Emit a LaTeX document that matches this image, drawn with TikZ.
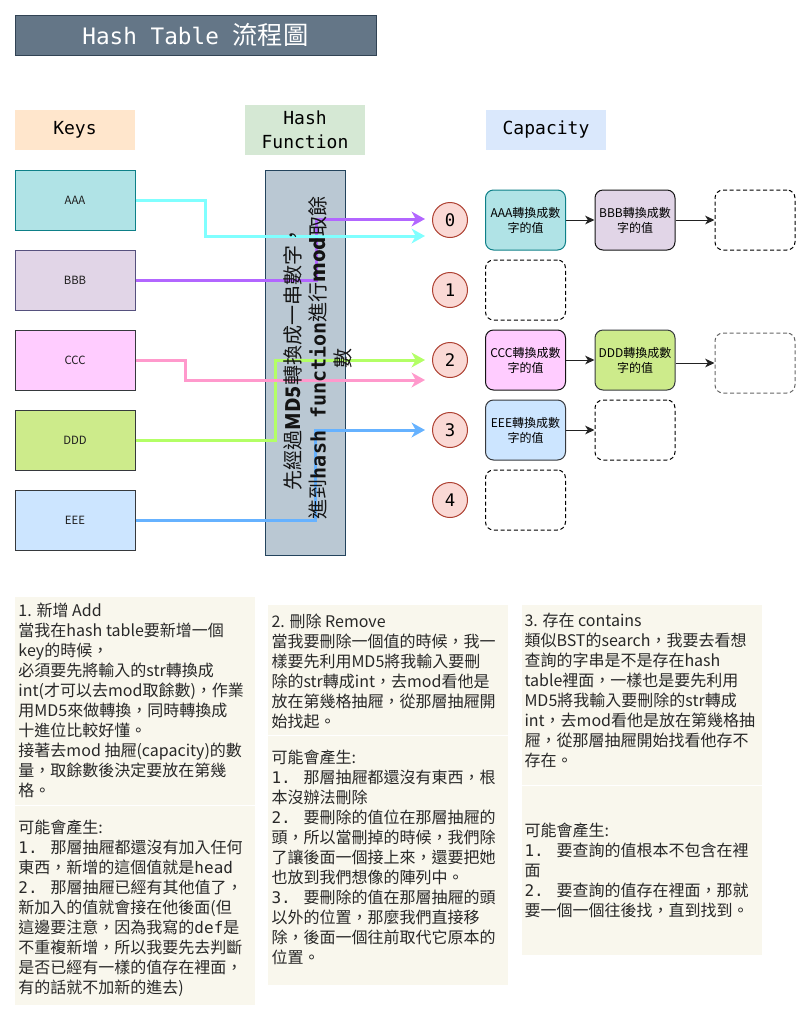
\documentclass[tikz,border=0pt]{standalone}
\usepackage{fontspec}
\setmainfont{Noto Sans CJK TC}
\newfontfamily\monofont{DejaVu Sans Mono}
\usetikzlibrary{arrows.meta}

\tikzset{every picture/.style={line width=0.75pt}}

\begin{document}
\begin{tikzpicture}[x=0.75pt,y=0.75pt,yscale=-1,xscale=1,
	keybox/.style={draw, minimum width=90pt, minimum height=45pt, inner sep=0pt, font=\fontsize{8.5}{10}\selectfont, text={rgb, 255:red, 30; green, 30; blue, 30}},
	headbox/.style={minimum width=90pt, inner sep=0pt, align=center, font=\monofont\fontsize{13.5}{18}\selectfont},
	slot/.style={draw, rounded corners=6pt, minimum width=60pt, minimum height=45pt, inner sep=0pt, align=center, font=\fontsize{9}{11.25}\selectfont},
	emptyslot/.style={slot, dash pattern=on 3pt off 2pt, fill=white},
	bucket/.style={circle, draw={rgb, 255:red, 174; green, 65; blue, 50}, fill={rgb, 255:red, 250; green, 217; blue, 213}, minimum size=26.25pt, inner sep=0pt, font=\monofont\fontsize{13}{13}\selectfont},
	hashline/.style={line width=2.25pt, -{Stealth[length=10pt, width=11pt, inset=3pt]}},
	nextline/.style={line width=0.75pt, draw={rgb, 255:red, 34; green, 34; blue, 34}, -{Stealth[length=7pt, width=6.5pt, inset=2pt]}},
	notebox/.style={fill={rgb, 255:red, 249; green, 247; blue, 237}},
	notetext/.style={anchor=north west, inner sep=0pt, align=left, font=\fontsize{12}{15}\selectfont, text={rgb, 255:red, 40; green, 40; blue, 40}}
]
%uncomment if require: \path (0,1022); %set diagram left start at 0, and has height of 1022
\useasboundingbox (0,0) rectangle (812,1022);

% Title
\node [draw={rgb, 255:red, 49; green, 67; blue, 84}, fill={rgb, 255:red, 100; green, 118; blue, 135}, minimum width=270.75pt, minimum height=30pt, inner sep=0pt, text=white, font=\monofont\fontsize{17}{17}\selectfont] (title) at (195.5,35) {Hash Table {\normalfont\fontsize{19}{19}\selectfont 流程圖}};

% Column headers
\node [headbox, fill={rgb, 255:red, 255; green, 230; blue, 204}, minimum height=30pt] (keys) at (75,130) {Keys};
\node [headbox, fill={rgb, 255:red, 213; green, 232; blue, 212}, minimum height=37.5pt] (hashfn) at (305,130) {Hash\\Function};
\node [headbox, fill={rgb, 255:red, 218; green, 232; blue, 252}, minimum height=30pt] (cap) at (546,130) {Capacity};

%Shape: Rectangle (keys)
\node [keybox, draw={rgb, 255:red, 14; green, 128; blue, 136}, fill={rgb, 255:red, 176; green, 227; blue, 230}] (aaa) at (75,200) {AAA};
\node [keybox, draw={rgb, 255:red, 86; green, 81; blue, 126}, fill={rgb, 255:red, 225; green, 213; blue, 231}] (bbb) at (75,280) {BBB};
\node [keybox, draw={rgb, 255:red, 54; green, 57; blue, 61}, fill={rgb, 255:red, 255; green, 204; blue, 255}] (ccc) at (75,360) {CCC};
\node [keybox, draw={rgb, 255:red, 54; green, 57; blue, 61}, fill={rgb, 255:red, 205; green, 235; blue, 139}] (ddd) at (75,440) {DDD};
\node [keybox, draw={rgb, 255:red, 54; green, 57; blue, 61}, fill={rgb, 255:red, 204; green, 229; blue, 255}] (eee) at (75,520) {EEE};

%Shape: Rectangle (hash function)
\node [draw={rgb, 255:red, 35; green, 68; blue, 93}, fill={rgb, 255:red, 186; green, 200; blue, 211}, minimum width=60pt, minimum height=288.75pt, inner sep=0pt] (md5) at (305,362.5) {};

% Arrow ends
\coordinate (in0b) at (425,219);
\coordinate (in0a) at (425,236);
\coordinate (in2a) at (425,360);
\coordinate (in2b) at (425,380);
\coordinate (in3) at (425,430);

%Straight Lines
\draw [hashline, draw={rgb, 255:red, 178; green, 102; blue, 255}] (bbb.east) -- ++(181,0) |- (in0b);
\draw [hashline, draw={rgb, 255:red, 128; green, 255; blue, 255}] (aaa.east) -- ++(70,0) |- (in0a);
\draw [hashline, draw={rgb, 255:red, 179; green, 255; blue, 102}] (ddd.east) -- ++(140,0) |- (in2a);
\draw [hashline, draw={rgb, 255:red, 255; green, 153; blue, 204}] (ccc.east) -- ++(50,0) |- (in2b);
\draw [hashline, draw={rgb, 255:red, 102; green, 178; blue, 255}] (eee.east) -- ++(180,0) |- (in3);

% Text Node
\node [rotate=90, align=center, inner sep=0pt, font=\fontsize{15}{18.75}\selectfont, text={rgb, 255:red, 20; green, 20; blue, 20}] (md5text) at (318,358) {先經過\textbf{MD5}轉換成一串數字，\\進到{\monofont\bfseries hash function}進行\textbf{mod}取餘\\數};

%Shape: Circle (buckets)
\node [bucket] (b0) at (450,220) {0};
\node [bucket] (b1) at (450,290) {1};
\node [bucket] (b2) at (450,360) {2};
\node [bucket] (b3) at (450,430) {3};
\node [bucket] (b4) at (450,500) {4};

%Shape: Rounded Rect (values)
\node [slot, draw={rgb, 255:red, 14; green, 128; blue, 136}, fill={rgb, 255:red, 176; green, 227; blue, 230}] (v0a) at (525.5,220) {AAA轉換成數\\字的值};
\node [slot, draw={rgb, 255:red, 20; green, 20; blue, 20}, fill={rgb, 255:red, 225; green, 213; blue, 231}] (v0b) at (635,220) {BBB轉換成數\\字的值};
\node [emptyslot] (v0c) at (755,220) {};
\node [emptyslot] (v1a) at (525.5,290) {};
\node [slot, draw={rgb, 255:red, 20; green, 20; blue, 20}, fill={rgb, 255:red, 255; green, 204; blue, 255}] (v2a) at (525.5,360) {CCC轉換成數\\字的值};
\node [slot, draw={rgb, 255:red, 54; green, 57; blue, 61}, fill={rgb, 255:red, 205; green, 235; blue, 139}] (v2b) at (635,360) {DDD轉換成數\\字的值};
\node [emptyslot, draw={rgb, 255:red, 102; green, 102; blue, 102}] (v2c) at (755,363) {};
\node [slot, draw={rgb, 255:red, 54; green, 57; blue, 61}, fill={rgb, 255:red, 204; green, 229; blue, 255}] (v3a) at (525.5,430) {EEE轉換成數\\字的值};
\node [emptyslot] (v3b) at (635,430) {};
\node [emptyslot] (v4a) at (525.5,500) {};

%Straight Lines
\draw [nextline] (v0a) -- (v0b);
\draw [nextline] (v0b) -- (v0c);
\draw [nextline] (v2a) -- (v2b);
\draw [nextline] (v2b.east |- v2c.west) -- (v2c.west);
\draw [nextline] (v3a) -- (v3b);

%Shape: Rectangle (notes)
\fill [notebox] (15,597) rectangle (255,804.5);
\fill [notebox] (15,805.5) rectangle (255,1005);
\fill [notebox] (268,605) rectangle (508,734.5);
\fill [notebox] (268,735.5) rectangle (508,985);
\fill [notebox] (522,605) rectangle (762,784.5);
\fill [notebox] (522,785.5) rectangle (762,955);

% Text Node
\node [notetext] (addtext) at (18,602) {1. 新增 Add\\當我在hash table要新增一個\\key的時候，\\必須要先將輸入的str轉換成\\int(才可以去mod取餘數)，作業\\用MD5來做轉換，同時轉換成\\十進位比較好懂。\\接著去mod 抽屜(capacity)的數\\量，取餘數後決定要放在第幾\\格。};
% Text Node
\node [notetext] (addcase) at (18,819) {可能會產生:\\{\monofont 1. }那層抽屜都還沒有加入任何\\東西，新增的這個值就是{\monofont head}\\{\monofont 2. }那層抽屜已經有其他值了，\\新加入的值就會接在他後面(但\\這邊要注意，因為我寫的{\monofont def}是\\不重複新增，所以我要先去判斷\\是否已經有一樣的值存在裡面，\\有的話就不加新的進去)};
% Text Node
\node [notetext] (deltext) at (271,613) {2. 刪除 Remove\\當我要刪除一個值的時候，我一\\樣要先利用MD5將我輸入要刪\\除的str轉成int，去mod看他是\\放在第幾格抽屜，從那層抽屜開\\始找起。};
% Text Node
\node [notetext] (delcase) at (271,749) {可能會產生:\\{\monofont 1. }那層抽屜都還沒有東西，根\\本沒辦法刪除\\{\monofont 2. }要刪除的值位在那層抽屜的\\頭，所以當刪掉的時候，我們除\\了讓後面一個接上來，還要把她\\也放到我們想像的陣列中。\\{\monofont 3. }要刪除的值在那層抽屜的頭\\以外的位置，那麼我們直接移\\除，後面一個往前取代它原本的\\位置。};
% Text Node
\node [notetext] (hastext) at (524,613) {3. 存在 contains\\類似BST的search，我要去看想\\查詢的字串是不是存在hash\\table裡面，一樣也是要先利用\\MD5將我輸入要刪除的str轉成\\int，去mod看他是放在第幾格抽\\屜，從那層抽屜開始找看他存不\\存在。};
% Text Node
\node [notetext] (hascase) at (524,822) {可能會產生:\\{\monofont 1. }要查詢的值根本不包含在裡\\面\\{\monofont 2. }要查詢的值存在裡面，那就\\要一個一個往後找，直到找到。};

\end{tikzpicture}
\end{document}
